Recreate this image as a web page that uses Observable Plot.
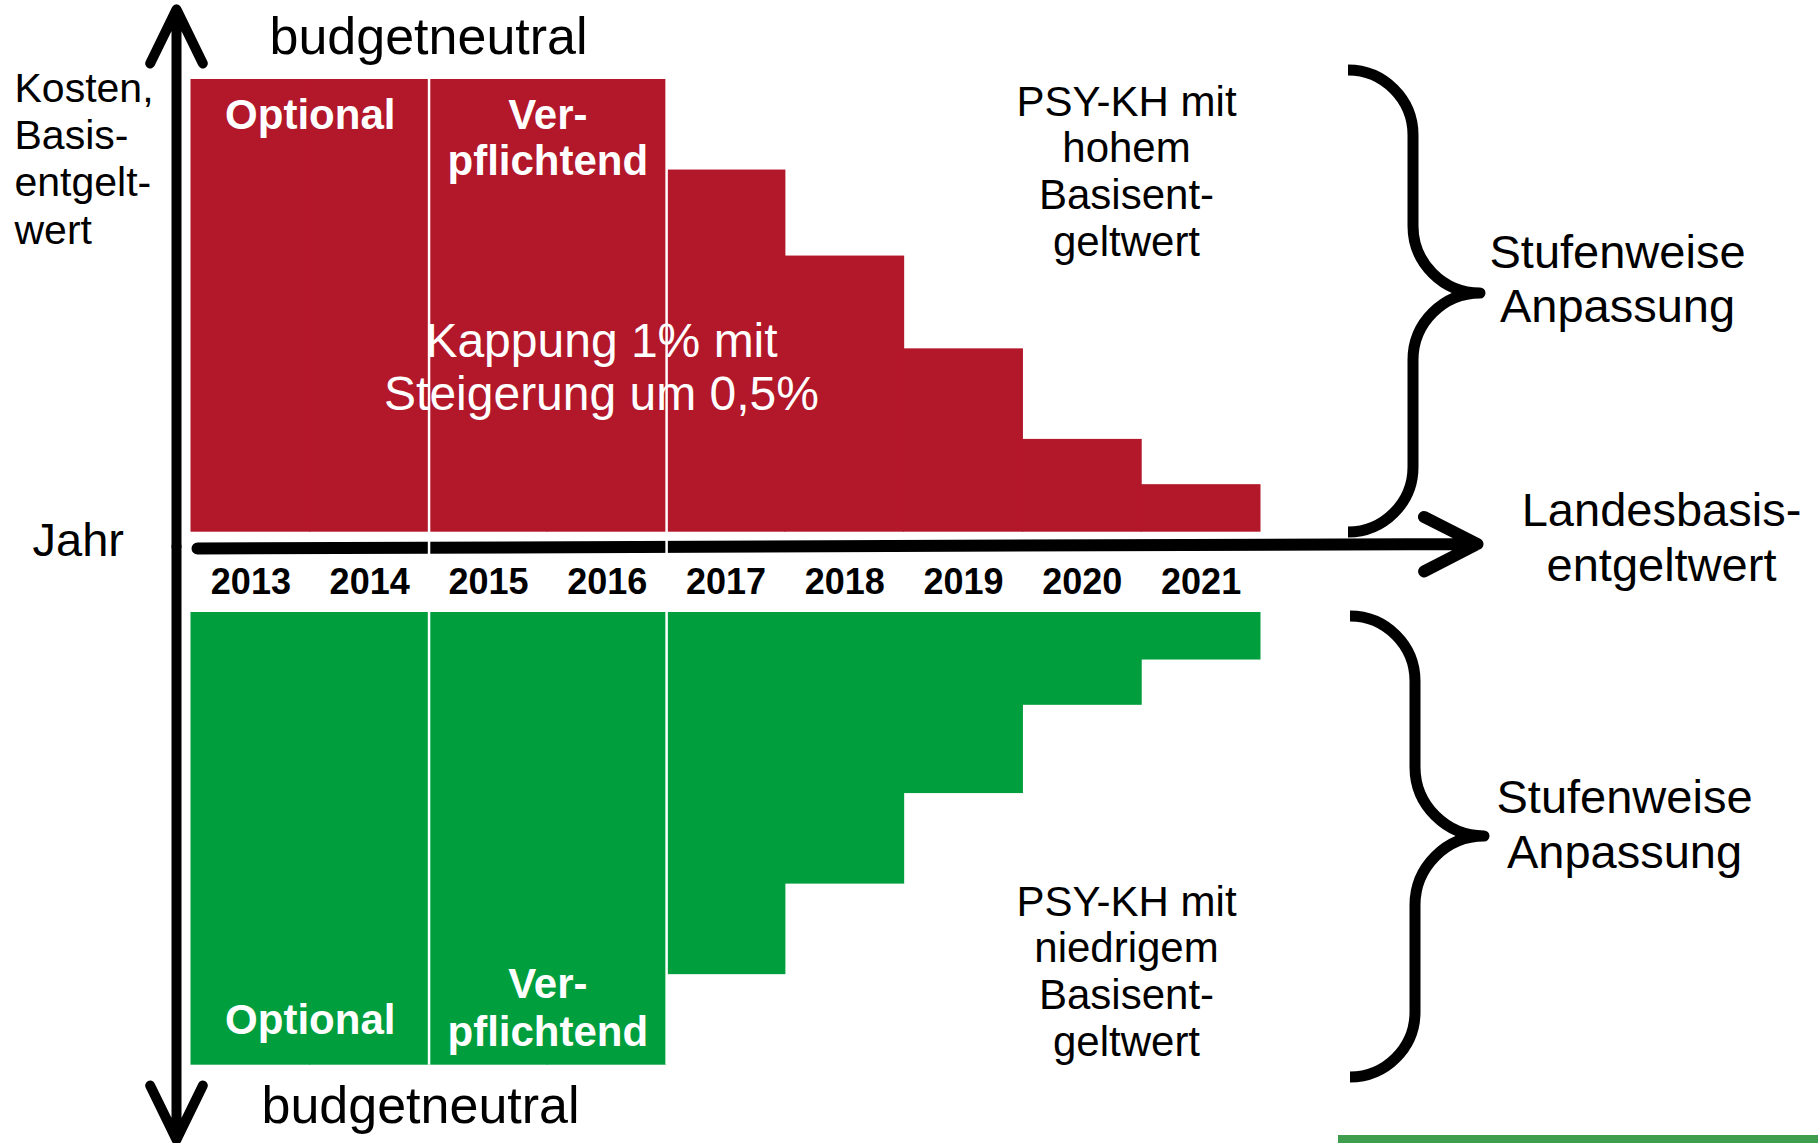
<!DOCTYPE html>
<html>
<head>
<meta charset="utf-8">
<script src="https://cdn.jsdelivr.net/npm/d3@7"></script>
<script src="https://cdn.jsdelivr.net/npm/@observablehq/plot@0.6"></script>
<style>
  html, body { margin: 0; padding: 0; background: #fff; }
  #chart svg { display: block; }
</style>
</head>
<body>
<div id="chart"></div>
<script>
// ---------- data ----------
const years = [2013, 2014, 2015, 2016, 2017, 2018, 2019, 2020, 2021];
// distance of the hospital's base rate from the state base rate (arbitrary units)
const highValues = [10, 10, 10, 10, 8.0, 6.1, 4.05, 2.05, 1.05]; // PSY-KH mit hohem Basisentgeltwert
const lowValues  = [10, 10, 10, 10, 8.0, 6.0, 4.0, 2.05, 1.05];  // PSY-KH mit niedrigem Basisentgeltwert
const phaseNames = ["Optional", "Ver-\npflichtend"];
const phaseYears = [[2013, 2014], [2015, 2016]];
const centerNote = "Kappung 1% mit\nSteigerung um 0,5%";
const highNote = "PSY-KH mit\nhohem\nBasisent-\ngeltwert";
const lowNote = "PSY-KH mit\nniedrigem\nBasisent-\ngeltwert";
const stepNote = "Stufenweise\nAnpassung";
const axisXLabel = "Landesbasis-\nentgeltwert";
const axisYLabel = "Kosten,\nBasis-\nentgelt-\nwert";
const yearLabel = "Jahr";
const neutralLabel = "budgetneutral";

// ---------- layout ----------
const W = 1818, H = 1143;
const X = d3.scaleLinear([2012.5, 2021.5], [191, 1260]);
const unit = 45.27, zeroPx = 546;
const Y = d3.scaleLinear([-(H - zeroPx) / unit, zeroPx / unit], [H, 0]);
const px = v => X.invert(v), py = v => Y.invert(v);
const gapUp = py(531.7);
const gapDown = py(612);
const red = "#B3172A", green = "#009E3D";
const FONT = "'Liberation Sans', Arial, Helvetica, sans-serif";

const high = years.map((year, i) => ({year, value: highValues[i]}));
const low = years.map((year, i) => ({year, value: lowValues[i]}));
const phases = phaseNames.map((name, i) => ({name, from: phaseYears[i][0], to: phaseYears[i][1]}));

const label = (text, xPx, baselinePx, opts) =>
  Plot.text([text], {
    x: () => px(xPx), y: () => py(baselinePx), text: d => d,
    lineAnchor: "bottom", fill: "black", ...opts
  });

const chart = Plot.plot({
  width: W, height: H,
  marginLeft: 191, marginRight: W - 1260, marginTop: 0, marginBottom: 0,
  x: {domain: X.domain(), axis: null},
  y: {domain: Y.domain(), axis: null},
  style: {fontFamily: FONT, background: "#fff", overflow: "visible"},
  marks: [
    // bars
    Plot.rect(high, {
      x1: d => d.year - 0.5, x2: d => d.year + 0.5,
      y1: () => gapUp, y2: d => gapUp + d.value,
      fill: red, insetLeft: -0.5, insetRight: -0.5
    }),
    Plot.rect(low, {
      x1: d => d.year - 0.5, x2: d => d.year + 0.5,
      y1: () => gapDown, y2: d => gapDown - d.value,
      fill: green, insetLeft: -0.5, insetRight: -0.5
    }),
    // axes as arrows
    Plot.arrow([0], {
      x1: () => px(197), y1: () => py(548), x2: () => px(1477), y2: () => py(543.5),
      stroke: "black", strokeWidth: 12, headLength: 7.5, headAngle: 54,
      strokeLinecap: "round", strokeLinejoin: "round"
    }),
    Plot.arrow([0], {
      x1: () => px(176), y1: () => py(546), x2: () => px(176), y2: () => py(9),
      stroke: "black", strokeWidth: 10, headLength: 9, headAngle: 52,
      strokeLinecap: "round", strokeLinejoin: "round"
    }),
    Plot.arrow([0], {
      x1: () => px(176), y1: () => py(546), x2: () => px(176), y2: () => py(1139),
      stroke: "black", strokeWidth: 10, headLength: 9, headAngle: 52,
      strokeLinecap: "round", strokeLinejoin: "round"
    }),
    // phase dividers
    Plot.ruleX(phases, {
      x: d => d.to + 0.5,
      y1: () => gapUp + d3.max(highValues), y2: () => gapDown - d3.max(lowValues),
      stroke: "white", strokeWidth: 2.5
    }),
    // year labels
    Plot.text(years, {
      x: d => d, y: () => py(593), text: d => String(d),
      lineAnchor: "bottom", fontSize: 36, fontWeight: "bold", fill: "black"
    }),
    // phase labels (red, top)
    Plot.text(phases, {
      x: d => (d.from + d.to) / 2,
      y: d => py(d.name.includes("\n") ? 174 : 128),
      text: "name", lineAnchor: "bottom", lineHeight: 1.095,
      fontSize: 42, fontWeight: "bold", fill: "white"
    }),
    // phase labels (green, bottom)
    Plot.text(phases, {
      x: d => (d.from + d.to) / 2,
      y: d => py(d.name.includes("\n") ? 1045 : 1033),
      text: "name", lineAnchor: "bottom", lineHeight: 1.12,
      fontSize: 42, fontWeight: "bold", fill: "white"
    }),
    // annotations
    label(centerNote, 601, 409, {fill: "white", fontSize: 48, lineHeight: 1.09}),
    label(highNote, 1126, 255, {fontSize: 42, lineHeight: 1.11}),
    label(lowNote, 1126, 1055, {fontSize: 42, lineHeight: 1.11}),
    label(stepNote, 1617, 321.5, {fontSize: 47, lineHeight: 1.14}),
    label(stepNote, 1624, 867, {fontSize: 47, lineHeight: 1.15}),
    label(axisXLabel, 1661, 580, {fontSize: 47, lineHeight: 1.15}),
    label(axisYLabel, 14, 243, {fontSize: 41, lineHeight: 1.149, textAnchor: "start"}),
    label(yearLabel, 32, 555, {fontSize: 47, textAnchor: "start"}),
    label(neutralLabel, 269, 53, {fontSize: 52, textAnchor: "start"}),
    label(neutralLabel, 261, 1122, {fontSize: 52, textAnchor: "start"})
  ]
});

// curly braces
function bracePath(x0, xm, xt, yTop, yTip, yBot) {
  const r1 = xm - x0, r2 = xt - xm;
  return [
    `M${x0},${yTop}`,
    `C${x0 + r1 * 0.55},${yTop} ${xm},${yTop + r1 * 0.45} ${xm},${yTop + r1}`,
    `L${xm},${yTip - r2}`,
    `C${xm},${yTip - r2 * 0.45} ${xt - r2 * 0.55},${yTip} ${xt},${yTip}`,
    `C${xt - r2 * 0.55},${yTip} ${xm},${yTip + r2 * 0.45} ${xm},${yTip + r2}`,
    `L${xm},${yBot - r1}`,
    `C${xm},${yBot - r1 * 0.45} ${x0 + r1 * 0.55},${yBot} ${x0},${yBot}`
  ].join(" ");
}
const sel = d3.select(chart);
const braces = sel.append("g").attr("aria-label", "braces")
  .attr("fill", "none").attr("stroke", "black").attr("stroke-width", 11)
  .attr("stroke-linejoin", "round");
braces.append("path").attr("d", bracePath(1348, 1413, 1480, 70, 293, 532));
braces.append("path").attr("d", bracePath(1350, 1415, 1484, 616, 836, 1077));
// slide template accent bar
sel.append("rect").attr("x", 1338).attr("y", 1135).attr("width", W - 1338).attr("height", 8)
  .attr("fill", "#3E9E4E");

document.getElementById("chart").appendChild(chart);
</script>
</body>
</html>
